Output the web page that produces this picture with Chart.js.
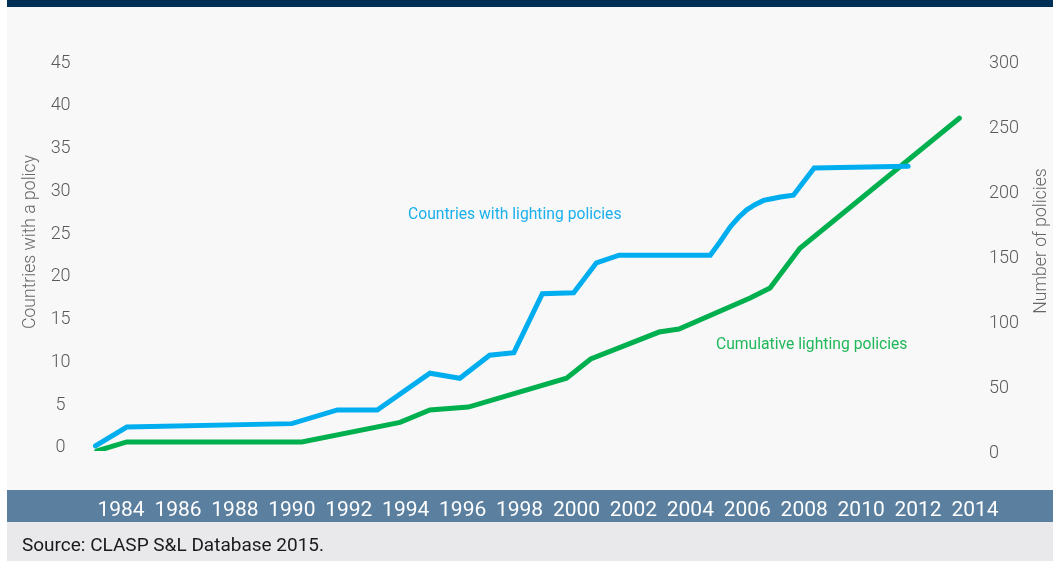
<!DOCTYPE html>
<html>
<head>
<meta charset="utf-8">
<title>Lighting policies</title>
<script src="https://cdn.jsdelivr.net/npm/chart.js@4.4.1/dist/chart.umd.min.js"></script>
<style>
  html, body { margin: 0; padding: 0; background: #fff; }
  #wrap { position: relative; width: 1053px; height: 561px; }
</style>
</head>
<body>
<div id="wrap"><canvas id="policyChart" width="1053" height="561"></canvas></div>
<script>
// countries with a lighting policy (left axis)
const countryYears = [1983.1, 1984.2, 1990.0, 1991.6, 1993.0, 1994.85, 1995.9, 1996.95, 1997.8, 1998.8,
    1999.9, 2000.7, 2001.5, 2004.7, 2005.05, 2005.4, 2005.69, 2005.98, 2006.27, 2006.57,
    2006.86, 2007.16, 2007.62, 2008.35, 2011.65];
const countryValues = [0, 2.2, 2.6, 4.2, 4.2, 8.5, 7.9, 10.6, 10.9, 17.8,
    17.9, 21.4, 22.3, 22.3, 23.9, 25.6, 26.7, 27.6, 28.2, 28.7,
    28.9, 29.1, 29.3, 32.5, 32.7];

// cumulative number of lighting policies (right axis)
const policyYears = [1983.15, 1984.2, 1990.35, 1993.8, 1994.85, 1996.2, 1999.65, 2000.5, 2002.9, 2003.6,
    2006.1, 2006.8, 2007.85, 2013.45];
const policyValues = [0, 7, 7, 22, 31.5, 33.8, 56, 70.8, 91.5, 93.8,
    117.7, 125.4, 156, 256];

const yearTicks = [1984, 1986, 1988, 1990, 1992, 1994, 1996, 1998, 2000, 2002, 2004, 2006, 2008, 2010, 2012, 2014];
const countryTicks = [0, 5, 10, 15, 20, 25, 30, 35, 40, 45];
const policyTicks = [0, 50, 100, 150, 200, 250, 300];

const BLUE = '#00aeef';
const GREEN = '#00b04f';

function toPoints(xs, ys) {
    return xs.map((x, i) => ({ x: x, y: ys[i] }));
}

function setTicks(values) {
    return scale => { scale.ticks = values.map(v => ({ value: v })); };
}

function verticalText(ctx, text, x, y) {
    ctx.save();
    ctx.translate(x, y);
    ctx.rotate(-Math.PI / 2);
    ctx.font = '300 17.6px Roboto';
    ctx.fillStyle = '#666666';
    ctx.textAlign = 'center';
    ctx.textBaseline = 'middle';
    ctx.fillText(text, 0, 0);
    ctx.restore();
}

// page background, x label band, footer and the text labels
const backdropPlugin = {
    id: 'backdrop',
    beforeDraw(chart) {
        const ctx = chart.ctx;
        ctx.save();
        ctx.fillStyle = '#ffffff';
        ctx.fillRect(0, 0, 1053, 561);
        ctx.fillStyle = '#002f56';
        ctx.fillRect(7, 0, 1046, 7);
        ctx.fillStyle = '#f8f8f8';
        ctx.fillRect(7, 7, 1046, 483);
        ctx.fillStyle = '#5b7f9f';
        ctx.fillRect(7, 490, 1046, 32);
        ctx.fillStyle = '#e9e9eb';
        ctx.fillRect(7, 522, 1046, 39);
        ctx.restore();
    },
    afterDatasetsDraw(chart) {
        const ctx = chart.ctx;
        const x = chart.scales.x;
        const yl = chart.scales.yCountries;
        const yr = chart.scales.yPolicies;
        ctx.save();
        ctx.font = '15.7px Roboto';
        ctx.textBaseline = 'middle';
        ctx.textAlign = 'left';
        ctx.fillStyle = '#1ab0ec';
        ctx.fillText('Countries with lighting policies', x.getPixelForValue(1994.08), yl.getPixelForValue(27.0));
        ctx.fillStyle = '#1fb85a';
        ctx.fillText('Cumulative lighting policies', x.getPixelForValue(2004.9), yr.getPixelForValue(81.5));
        ctx.restore();
    },
    afterDraw(chart) {
        const ctx = chart.ctx;
        verticalText(ctx, 'Countries with a policy', 31, 242);
        verticalText(ctx, 'Number of policies', 1042, 241);

        ctx.save();
        ctx.font = '19px Roboto';
        ctx.fillStyle = '#1a1a1a';
        ctx.textBaseline = 'middle';
        ctx.fillText('Source: CLASP S&L Database 2015.', 22, 546);
        ctx.restore();
    }
};

new Chart(document.getElementById('policyChart'), {
    type: 'line',
    data: {
        datasets: [
            {
                label: 'Countries with lighting policies',
                data: toPoints(countryYears, countryValues),
                yAxisID: 'yCountries',
                borderColor: BLUE,
                borderWidth: 5,
                borderCapStyle: 'round',
                pointRadius: 0,
                tension: 0
            },
            {
                label: 'Cumulative lighting policies',
                data: toPoints(policyYears, policyValues),
                yAxisID: 'yPolicies',
                borderColor: GREEN,
                borderWidth: 5,
                borderCapStyle: 'round',
                pointRadius: 0,
                tension: 0
            }
        ]
    },
    options: {
        responsive: false,
        animation: false,
        layout: { padding: { top: 61, left: 0, right: 0, bottom: 0 } },
        plugins: {
            legend: { display: false },
            tooltip: { enabled: false }
        },
        scales: {
            x: {
                type: 'linear',
                min: 1983,
                max: 2014,
                grid: { display: false, drawTicks: false },
                border: { display: false },
                afterBuildTicks: setTicks(yearTicks),
                afterFit: scale => { scale.height = 110; },
                ticks: {
                    color: '#ffffff',
                    font: { family: 'Roboto', size: 21 },
                    padding: 47,
                    maxRotation: 0,
                    autoSkip: false,
                    callback: v => String(v)
                }
            },
            yCountries: {
                type: 'linear',
                position: 'left',
                min: -0.6,
                max: 45,
                grid: { display: false, drawTicks: false },
                border: { display: false },
                afterBuildTicks: setTicks(countryTicks),
                afterFit: scale => { scale.width = 92.6; },
                ticks: {
                    color: '#5a5a5a',
                    font: { family: 'Roboto', size: 18, weight: '300' },
                    crossAlign: 'center',
                    labelOffset: 2,
                    padding: 22
                }
            },
            yPolicies: {
                type: 'linear',
                position: 'right',
                min: 0,
                max: 300,
                grid: { display: false, drawTicks: false },
                border: { display: false },
                afterBuildTicks: setTicks(policyTicks),
                afterFit: scale => { scale.width = 78; },
                ticks: {
                    color: '#5a5a5a',
                    font: { family: 'Roboto', size: 18, weight: '300' },
                    labelOffset: 2,
                    padding: 14
                }
            }
        }
    },
    plugins: [backdropPlugin]
});
</script>
</body>
</html>
